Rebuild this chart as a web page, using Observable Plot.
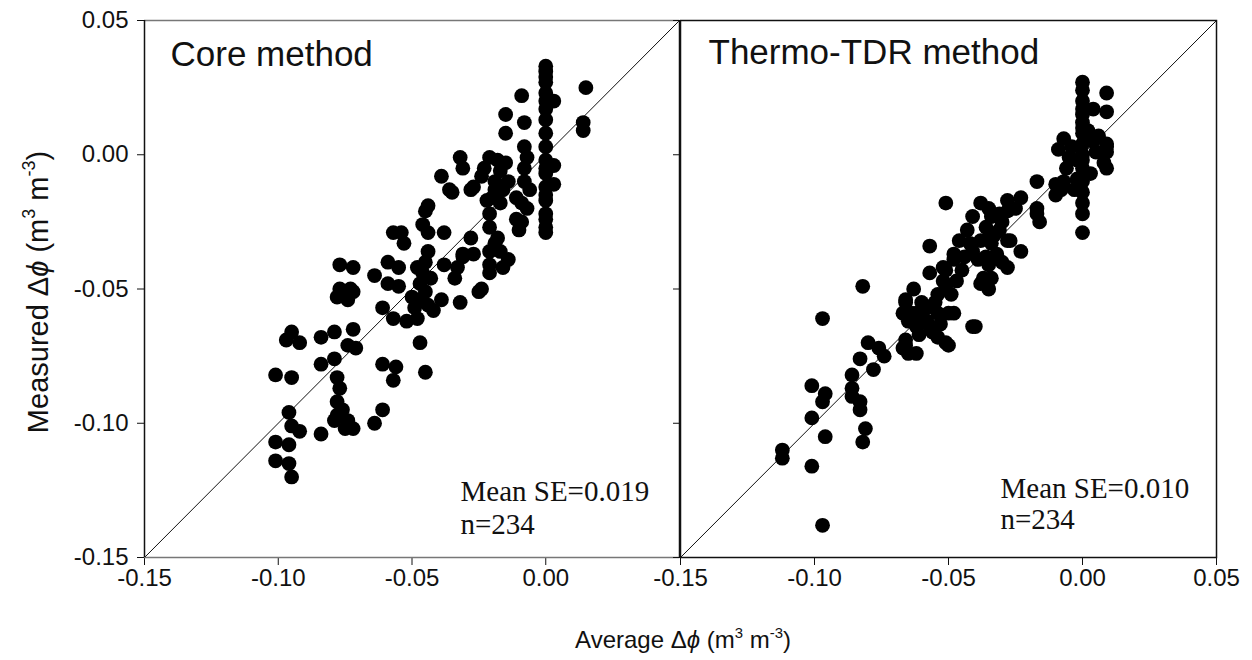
<!DOCTYPE html>
<html>
<head>
<meta charset="utf-8">
<script src="https://cdn.jsdelivr.net/npm/d3@7"></script>
<script src="https://cdn.jsdelivr.net/npm/@observablehq/plot@0.6"></script>
<style>
  html, body { margin: 0; padding: 0; background: white; }
  #wrap { position: relative; width: 1252px; height: 660px; overflow: hidden; background: white; }
  #left, #right { position: absolute; top: 0; }
  #left { left: 0; }
  #right { left: 650px; }
  .lab { position: absolute; white-space: nowrap; font-family: "Liberation Sans", Arial, sans-serif; color: #111; }
  .lab sup { font-size: 0.62em; vertical-align: 0.7em; line-height: 0; }
  #ylab { left: 38px; top: 292px; font-size: 29px; transform: translate(-50%, -50%) rotate(-90deg); }
  #xlab { left: 683px; top: 640px; font-size: 24px; transform: translate(-50%, -50%); }
</style>
</head>
<body>
<div id="wrap">
  <div id="left"></div>
  <div id="right"></div>
  <div class="lab" id="ylab">Measured Δ<i>ϕ</i> (m<sup>3</sup> m<sup>-3</sup>)</div>
  <div class="lab" id="xlab">Average Δ<i>ϕ</i> (m<sup>3</sup> m<sup>-3</sup>)</div>
</div>
<script>
// ---- Data ----
const axisDomain = [-0.15, 0.05];
const yTicks = [-0.15, -0.10, -0.05, 0.00, 0.05];
const yTickLabels = ["-0.15", "-0.10", "-0.05", "0.00", "0.05"];
const xTicksCore = [-0.15, -0.10, -0.05, 0.00];
const xTickLabelsCore = ["-0.15", "-0.10", "-0.05", "0.00"];
const xTicksTdr = [-0.15, -0.10, -0.05, 0.00, 0.05];
const xTickLabelsTdr = ["-0.15", "-0.10", "-0.05", "0.00", "0.05"];

const panelTitles = ["Core method", "Thermo-TDR method"];
const meanSE = ["Mean SE=0.019", "Mean SE=0.010"];
const nLabels = ["n=234", "n=234"];

// Core method: average Δφ (x) and measured Δφ (y)
const coreAvg = [
  0,0,0,0,0,0,0,0,0,0,0,0,0,0,0,0,0,0,0,0,
  0.003,0.003,0.003,0.015,0.014,0.014,
  -0.009,-0.008,-0.008,-0.007,-0.008,-0.008,-0.006,-0.009,-0.007,-0.009,
  -0.015,-0.015,-0.014,-0.011,-0.011,-0.010,
  -0.021,-0.023,-0.017,-0.019,-0.027,-0.019,-0.016,-0.022,-0.017,-0.021,
  -0.024,-0.015,-0.020,-0.018,
  -0.032,-0.031,-0.039,-0.036,-0.035,-0.028,
  -0.021,-0.018,-0.021,-0.017,-0.021,-0.016,-0.021,-0.019,-0.014,
  -0.028,-0.031,-0.027,-0.033,-0.034,-0.025,-0.032,-0.031,-0.024,
  -0.038,-0.044,-0.045,-0.046,-0.044,-0.044,-0.048,-0.046,-0.047,-0.050,-0.047,-0.039,-0.042,-0.038,
  -0.045,-0.043,-0.045,-0.049,-0.044,
  -0.057,-0.054,-0.053,-0.059,-0.055,-0.064,-0.059,-0.055,-0.061,-0.057,-0.052,-0.048,
  -0.047,-0.045,
  -0.077,-0.072,-0.077,-0.073,-0.078,-0.074,-0.072,
  -0.095,-0.097,-0.092,-0.084,-0.079,-0.072,-0.074,-0.071,-0.079,-0.084,
  -0.101,-0.095,-0.078,-0.077,-0.078,-0.076,-0.078,-0.079,-0.074,-0.072,-0.075,
  -0.061,-0.056,-0.057,-0.061,-0.064,
  -0.096,-0.095,-0.092,-0.084,-0.101,-0.096,-0.101,-0.096,-0.095
];
const coreMeas = [
  0.033,0.029,0.027,0.023,0.017,0.013,0.008,0.003,-0.002,-0.007,-0.012,-0.017,-0.022,-0.027,-0.029,0.020,0.031,-0.005,-0.015,-0.024,
  0.020,-0.004,-0.011,0.025,0.012,0.009,
  0.022,0.012,0.003,-0.001,-0.005,-0.010,-0.013,-0.018,-0.020,-0.025,
  0.015,0.008,-0.010,-0.016,-0.024,-0.028,
  -0.001,-0.005,-0.006,-0.010,-0.012,-0.013,-0.013,-0.017,-0.018,-0.022,
  -0.008,-0.003,-0.016,-0.002,
  -0.001,-0.005,-0.008,-0.013,-0.014,-0.013,
  -0.027,-0.031,-0.036,-0.036,-0.041,-0.042,-0.044,-0.033,-0.039,
  -0.031,-0.037,-0.037,-0.042,-0.046,-0.051,-0.055,-0.038,-0.050,
  -0.029,-0.019,-0.021,-0.026,-0.029,-0.036,-0.042,-0.044,-0.048,-0.053,-0.054,-0.054,-0.058,-0.041,
  -0.040,-0.046,-0.051,-0.057,-0.056,
  -0.029,-0.029,-0.033,-0.040,-0.042,-0.045,-0.048,-0.049,-0.057,-0.061,-0.062,-0.061,
  -0.070,-0.081,
  -0.041,-0.042,-0.050,-0.050,-0.053,-0.054,-0.051,
  -0.066,-0.069,-0.070,-0.068,-0.066,-0.065,-0.071,-0.072,-0.076,-0.078,
  -0.082,-0.083,-0.083,-0.087,-0.092,-0.095,-0.097,-0.099,-0.099,-0.102,-0.102,
  -0.078,-0.079,-0.084,-0.095,-0.100,
  -0.096,-0.101,-0.103,-0.104,-0.107,-0.108,-0.114,-0.115,-0.120
];

// Thermo-TDR method
const tdrAvg = [
  0,0,0,0,0,0,0,0,0,0,0,0,0,0,0,0,0,
  0.009,0.004,0.009,0.009,0.009,0.008,0.009,0.004,0.005,0.009,
  -0.007,-0.009,-0.005,-0.007,-0.008,-0.006,-0.002,-0.002,-0.010,-0.010,
  -0.004,0.003,0.006,-0.003,0.002,
  -0.017,-0.017,-0.017,-0.016,
  -0.023,-0.028,-0.035,-0.038,-0.041,-0.034,-0.028,-0.036,-0.031,-0.028,-0.034,-0.038,-0.041,-0.023,-0.028,-0.035,-0.037,-0.034,-0.030,-0.035,-0.027,-0.039,-0.038,-0.035,
  -0.032,-0.030,-0.036,-0.031,-0.025,-0.033,
  -0.048,-0.051,-0.051,-0.042,-0.048,-0.057,-0.052,-0.057,-0.047,-0.051,-0.054,-0.063,-0.066,-0.067,-0.062,-0.058,-0.050,-0.054,-0.057,-0.054,-0.051,-0.062,-0.066,-0.065,-0.067,-0.062,-0.040,-0.066,-0.064,-0.065,-0.060,-0.066,-0.056,-0.050,-0.041,-0.048,
  -0.060,-0.058,-0.055,-0.052,-0.049,-0.061,-0.053,-0.045,-0.044,-0.046,-0.043,
  -0.082,-0.097,-0.080,-0.076,-0.074,-0.078,-0.083,-0.086,-0.086,-0.086,-0.083,-0.083,-0.081,-0.082,
  -0.101,-0.096,-0.097,-0.101,-0.096,-0.112,-0.112,-0.101,-0.097
];
const tdrMeas = [
  0.027,0.024,0.020,0.015,0.012,0.008,0.004,0.000,-0.005,-0.010,-0.014,-0.018,-0.022,-0.029,0.017,-0.002,0.010,
  0.023,0.017,0.016,0.004,0.001,-0.003,-0.005,0.005,0.001,0.003,
  0.006,0.002,-0.001,-0.010,-0.013,-0.005,-0.002,-0.009,-0.011,-0.015,
  0.003,-0.007,0.007,-0.013,0.009,
  -0.010,-0.020,-0.022,-0.025,
  -0.016,-0.017,-0.020,-0.018,-0.023,-0.023,-0.021,-0.027,-0.028,-0.032,-0.033,-0.032,-0.036,-0.036,-0.042,-0.041,-0.046,-0.046,-0.025,-0.031,-0.032,-0.039,-0.048,-0.050,
  -0.037,-0.040,-0.038,-0.022,-0.020,-0.030,
  -0.039,-0.043,-0.018,-0.033,-0.037,-0.034,-0.042,-0.044,-0.047,-0.050,-0.052,-0.050,-0.054,-0.059,-0.059,-0.057,-0.059,-0.059,-0.064,-0.068,-0.070,-0.064,-0.069,-0.074,-0.072,-0.074,-0.064,-0.055,-0.059,-0.062,-0.061,-0.071,-0.066,-0.071,-0.064,-0.059,
  -0.055,-0.062,-0.055,-0.047,-0.052,-0.067,-0.063,-0.043,-0.038,-0.032,-0.028,
  -0.049,-0.061,-0.070,-0.072,-0.075,-0.080,-0.076,-0.082,-0.087,-0.090,-0.092,-0.095,-0.102,-0.107,
  -0.086,-0.089,-0.092,-0.098,-0.105,-0.110,-0.113,-0.116,-0.138
];

// ---- Build tables ----
const core = coreAvg.map((x, i) => ({x, y: coreMeas[i]}));
const tdr = tdrAvg.map((x, i) => ({x, y: tdrMeas[i]}));
const diag = axisDomain.map(v => ({x: v, y: v}));
const fmt = (ticks, labels) => v => labels[ticks.findIndex(t => Math.abs(t - v) < 1e-9)] ?? "";

const baseStyle = {
  background: "transparent",
  overflow: "visible",
  fontFamily: "'Liberation Sans', Arial, sans-serif",
  fontSize: "24px",
  color: "#111"
};
const dotR = 7.4;
const serif = "'Liberation Serif', 'Times New Roman', serif";

const left = Plot.plot({
  width: 680, height: 600,
  marginLeft: 144, marginRight: 1, marginTop: 20, marginBottom: 43,
  style: baseStyle,
  x: {domain: axisDomain, ticks: xTicksCore, tickFormat: fmt(xTicksCore, xTickLabelsCore), tickSize: 8, tickPadding: 3, label: null},
  y: {domain: axisDomain, ticks: yTicks, tickFormat: fmt(yTicks, yTickLabels), tickSize: 7, tickPadding: 9, label: null},
  marks: [
    Plot.line(diag, {x: "x", y: "y", stroke: "#111", strokeWidth: 1}),
    Plot.dot(core, {x: "x", y: "y", r: dotR, fill: "black", stroke: "none"}),
    Plot.ruleY(axisDomain, {stroke: "#777", strokeWidth: 1.5}),
    Plot.ruleX(axisDomain, {stroke: "#111", strokeWidth: 1.5}),
    Plot.text([panelTitles[0]], {frameAnchor: "top-left", lineAnchor: "middle", dx: 26, dy: 34, fontSize: 35, textAnchor: "start", fill: "#111"}),
    Plot.text([meanSE[0]], {frameAnchor: "bottom-left", lineAnchor: "middle", dx: 316, dy: -66, fontSize: 29, textAnchor: "start", fontFamily: serif, fill: "#111"}),
    Plot.text([nLabels[0]], {frameAnchor: "bottom-left", lineAnchor: "middle", dx: 316, dy: -33, fontSize: 29, textAnchor: "start", fontFamily: serif, fill: "#111"})
  ]
});
document.getElementById("left").appendChild(left);

const right = Plot.plot({
  width: 602, height: 600,
  marginLeft: 30, marginRight: 36, marginTop: 20, marginBottom: 43,
  style: baseStyle,
  x: {domain: axisDomain, ticks: xTicksTdr, tickFormat: fmt(xTicksTdr, xTickLabelsTdr), tickSize: 8, tickPadding: 3, label: null},
  y: {domain: axisDomain, ticks: yTicks, tickFormat: () => "", tickSize: 7, label: null},
  marks: [
    Plot.line(diag, {x: "x", y: "y", stroke: "#111", strokeWidth: 1}),
    Plot.dot(tdr, {x: "x", y: "y", r: dotR, fill: "black", stroke: "none"}),
    Plot.frame({stroke: "#111", strokeWidth: 1.5}),
    Plot.text([panelTitles[1]], {frameAnchor: "top-left", lineAnchor: "middle", dx: 28, dy: 32, fontSize: 35, textAnchor: "start", fill: "#111"}),
    Plot.text([meanSE[1]], {frameAnchor: "bottom-left", lineAnchor: "middle", dx: 320, dy: -69, fontSize: 29, textAnchor: "start", fontFamily: serif, fill: "#111"}),
    Plot.text([nLabels[1]], {frameAnchor: "bottom-left", lineAnchor: "middle", dx: 320, dy: -38, fontSize: 29, textAnchor: "start", fontFamily: serif, fill: "#111"})
  ]
});
document.getElementById("right").appendChild(right);
</script>
</body>
</html>
